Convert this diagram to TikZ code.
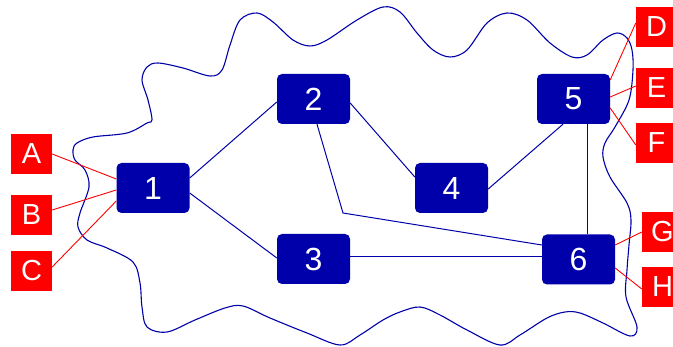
\documentclass[tikz,border=0pt]{standalone}
\usepackage{fontspec}
\setmainfont{Liberation Sans}
\definecolor{nodeblue}{RGB}{0,0,170}
\definecolor{pinred}{RGB}{255,0,0}
\begin{document}
\begin{tikzpicture}[x=1pt,y=-1pt,
  bluebox/.style={fill=nodeblue,draw=none,rounded corners=5pt,minimum width=73pt,minimum height=50pt,inner sep=0pt,text=white,font=\fontsize{32}{32}\selectfont},
  redbox/.style={fill=pinred,draw=none,minimum width=41pt,minimum height=40pt,inner sep=0pt,text=white,font=\fontsize{29}{29}\selectfont},
  edge/.style={draw=nodeblue,line width=1pt},
  pin/.style={draw=pinred,line width=0.9pt},
  blob/.style={draw=nodeblue,line width=1.1pt}]
\useasboundingbox (0,0) rectangle (673,347);
\clip (0,0) rectangle (673,347);
% wavy outline
\draw[blob] plot[smooth cycle,tension=0.55] coordinates {
 (152,120) (148,100) (142,80) (147,67) (158,63) (183,68) (210,76) (222,70) (230,45) (240,20)
 (257,13) (273,22) (293,40) (310,46) (327,40) (357,20) (383,7) (400,12) (417,33) (433,50)
 (450,57) (467,50) (487,23) (507,13) (527,20) (550,43) (572,57) (587,55) (603,40) (617,33)
 (627,38) (632,50) (633,70) (629,100) (615,127) (605,143) (603,157) (610,177) (627,203) (631,220)
 (629,245) (627,270) (626,297) (637,327) (630,336) (603,323) (580,313) (565,312) (547,318) (520,335)
 (500,345) (467,330) (440,315) (420,307) (400,312) (383,320) (360,335) (340,345) (307,333) (270,318)
 (243,306) (225,308) (195,320) (167,332) (147,327) (142,307) (140,283) (133,262) (107,248) (87,240)
 (78,227) (80,213) (89,187) (85,170) (75,160) (73,150) (77,143) (93,137) (127,133) (147,123)};
% blue nodes
\node[bluebox] (n1) at (153,188) {1};
\node[bluebox] (n2) at (313.5,99) {2};
\node[bluebox] (n3) at (313.5,259) {3};
\node[bluebox] (n4) at (451.5,188) {4};
\node[bluebox] (n5) at (573.5,99) {5};
\node[bluebox] (n6) at (578.5,259.5) {6};
% red nodes
\node[redbox] (A) at (31.5,154) {A};
\node[redbox] (B) at (31.5,215) {B};
\node[redbox] (C) at (31.5,271) {C};
\node[redbox] (D) at (656.5,27) {D};
\node[redbox] (E) at (656.5,88) {E};
\node[redbox] (F) at (656.5,143) {F};
\node[redbox] (G) at (662.5,232) {G};
\node[redbox] (H) at (662.5,287) {H};
\coordinate (bend) at (343,213);
% blue edges
\draw[edge] ([yshift=10pt]n1.east) -- ([yshift=-3pt]n2.west);
\draw[edge] ([yshift=-5pt]n1.east) -- ([yshift=1pt]n3.west);
\draw[edge] ([yshift=-4pt]n2.east) -- ([yshift=11pt]n4.west);
\draw[edge] ([yshift=-1pt]n4.east) -- ([xshift=-10.5pt]n5.south);
\draw[edge] ([xshift=13.5pt]n5.south) -- ([xshift=13.5pt]n5.south |- n6.north);
\draw[edge] ([xshift=3.5pt]n2.south) -- (bend) -- ([yshift=14.5pt]n6.west);
\draw[edge] ([yshift=2pt]n3.east) -- ([yshift=2pt]n3.east -| n6.west);
% red connectors
\draw[pin] (A.east) -- ([yshift=9pt]n1.west);
\draw[pin] ([yshift=5pt]B.east) -- ([yshift=-2pt]n1.west);
\draw[pin] ([yshift=4pt]C.east) -- ([yshift=-13pt]n1.west);
\draw[pin] ([yshift=19pt]n5.east) -- ([yshift=4pt]D.west);
\draw[pin] ([yshift=2pt]n5.east) -- ([yshift=2pt]E.west);
\draw[pin] ([yshift=-9pt]n5.east) -- ([yshift=-2pt]F.west);
\draw[pin] ([yshift=14.5pt]n6.east) -- (G.west);
\draw[pin] ([yshift=-8.5pt]n6.east) -- ([yshift=-2pt]H.west);
\end{tikzpicture}
\end{document}
